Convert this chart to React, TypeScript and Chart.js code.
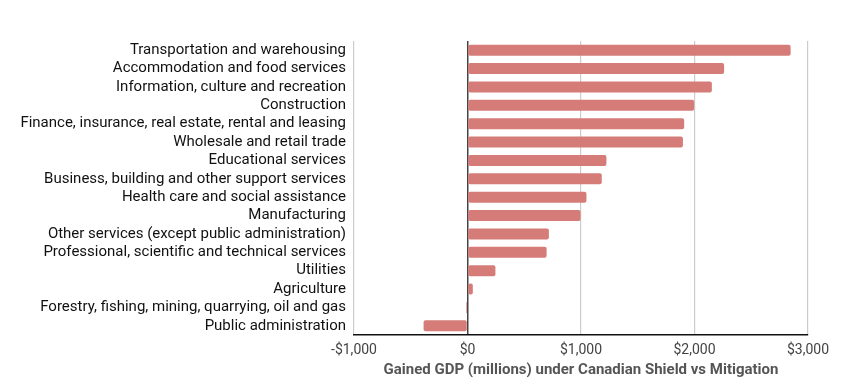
import React, { useEffect, useRef } from "react";
import { Chart, registerables } from "chart.js";

Chart.register(...registerables);

const categories = [
  "Transportation and warehousing",
  "Accommodation and food services",
  "Information, culture and recreation",
  "Construction",
  "Finance, insurance, real estate, rental and leasing",
  "Wholesale and retail trade",
  "Educational services",
  "Business, building and other support services",
  "Health care and social assistance",
  "Manufacturing",
  "Other services (except public administration)",
  "Professional, scientific and technical services",
  "Utilities",
  "Agriculture",
  "Forestry, fishing, mining, quarrying, oil and gas",
  "Public administration",
];

const gainedGdp = [2847, 2261, 2153, 1997, 1909, 1898, 1224, 1183, 1048, 996, 717, 697, 246, 47, -12, -387];

const xMin = -1000;
const xMax = 3000;
const xStep = 1000;
const axisTitle = "Gained GDP (millions) under Canadian Shield vs Mitigation";

function fmt(v: number): string {
  const abs = Math.abs(v).toLocaleString("en-US");
  return (v < 0 ? "-$" : "$") + abs;
}

export default function App() {
  const ref = useRef<HTMLCanvasElement | null>(null);
  useEffect(() => {
    if (!ref.current) return;
    const chart = new Chart(ref.current, {
      type: "bar",
      data: {
        labels: categories,
        datasets: [
          {
            data: gainedGdp,
            backgroundColor: "rgb(214,124,120)",
            borderRadius: 2,
            borderSkipped: false,
            categoryPercentage: 1,
            barPercentage: 0.6,
          },
        ],
      },
      options: {
        indexAxis: "y",
        responsive: false,
        animation: false,
        maintainAspectRatio: false,
        layout: { padding: { top: 41, right: 42, left: 0, bottom: 0 } },
        plugins: { legend: { display: false }, tooltip: { enabled: false } },
        scales: {
          x: {
            min: xMin,
            max: xMax,
            ticks: {
              stepSize: xStep,
              callback: (v: any) => fmt(Number(v)),
              color: "#444",
              font: { family: "Roboto", size: 14 },
              padding: 7,
              maxRotation: 0,
            },
            grid: {
              drawTicks: false,
              color: (ctx: any) => (ctx.tick && ctx.tick.value === 0 ? "#444" : "#cccccc"),
              lineWidth: (ctx: any) => (ctx.tick && ctx.tick.value === 0 ? 1.5 : 1.2),
            },
            border: { display: true, color: "#111", width: 1.5 },
            title: {
              display: true,
              text: axisTitle,
              color: "#555",
              font: { family: "Roboto", size: 15, weight: "bold", lineHeight: 1.2 },
              padding: { top: 0, bottom: 6 },
            },
            afterFit: (scale: any) => {
              scale.height = 50;
            },
          },
          y: {
            grid: { display: false, drawTicks: false },
            border: { display: false },
            ticks: {
              color: "#111",
              font: { family: "Roboto", size: 15 },
              padding: 8,
              autoSkip: false,
            },
            afterFit: (scale: any) => {
              scale.width = 354;
            },
          },
        },
      },
    });
    return () => chart.destroy();
  }, []);
  return (
    <div style={{ position: "fixed", left: 0, top: 0, width: 850, height: 385, background: "#fff" }}>
      <canvas ref={ref} width={850} height={385} style={{ width: 850, height: 385 }} />
    </div>
  );
}
